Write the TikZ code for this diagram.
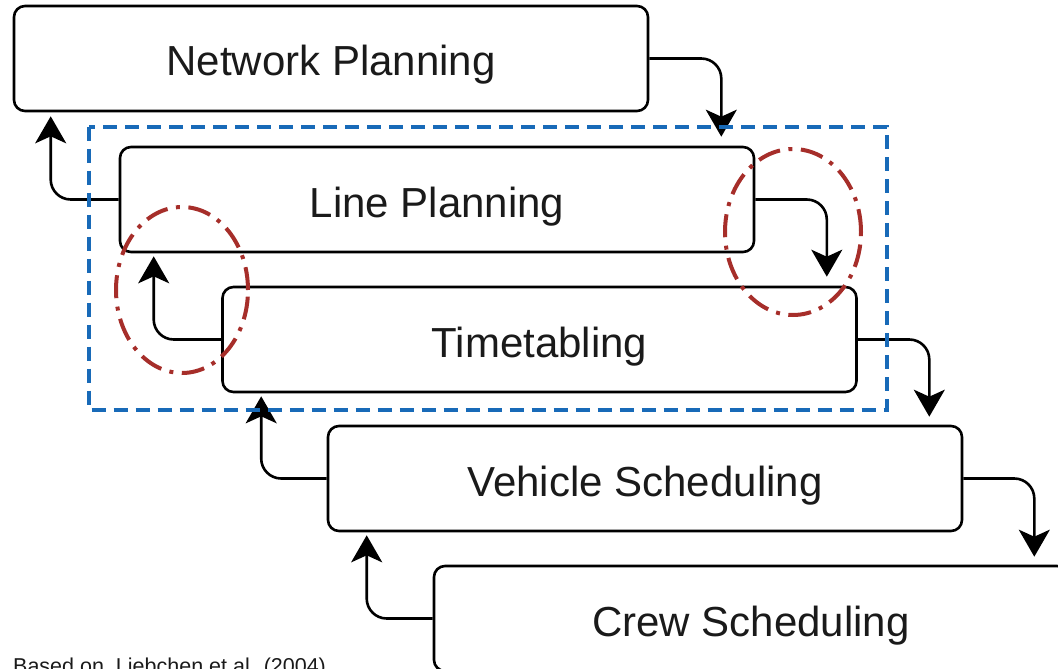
\documentclass[tikz,border=0pt]{standalone}
\usepackage{fontspec}
\setmainfont{Liberation Sans}
\usetikzlibrary{arrows.meta}

\definecolor{frameblue}{RGB}{24,106,184}
\definecolor{loopred}{RGB}{166,46,42}
\definecolor{inkgray}{RGB}{26,26,26}

\tikzset{
  stage/.style={draw=black, line width=2.6pt, rounded corners=11pt,
    minimum width=634pt, minimum height=105pt, inner sep=0pt,
    text height=35pt, text depth=0pt,
    text=inkgray, font=\fontsize{42}{50}\selectfont},
  flow/.style={line width=2.6pt, rounded corners=20pt,
    -{Stealth[length=27pt, width=31pt, inset=7pt]}},
  feedback/.style={flow},
  scopeframe/.style={draw=frameblue, line width=4pt, dash pattern=on 14pt off 8pt},
  loopmark/.style={draw=loopred, line width=4pt,
    dash pattern=on 23pt off 8.5pt on 4pt off 8.5pt},
  sourcenote/.style={text=inkgray, font=\fontsize{21.5}{26}\selectfont,
    inner sep=0pt, anchor=base west}
}

\begin{document}
\begin{tikzpicture}[x=1pt, y=-1pt]
  \useasboundingbox (0,0) rectangle (1058,669);

  % planning stages
  \node[stage] (np) at (331,58.5)   {Network Planning};
  \node[stage] (lp) at (437,199.5)  {Line Planning};
  \node[stage] (tt) at (539.5,339.5) {Timetabling};
  \node[stage] (vs) at (645,478.5)  {Vehicle Scheduling};
  \node[stage] (cs) at (751,618.5)  {Crew Scheduling};

  % forward flow, right side
  \draw[flow] (np.east) -| ([xshift=-34pt, yshift=9pt]lp.north east);
  \draw[flow] (lp.east) -| ([xshift=-31pt, yshift=9pt]tt.north east);
  \draw[flow] (tt.east) -| ([xshift=-34pt, yshift=8pt]vs.north east);
  \draw[flow] (vs.east) -| ([xshift=-35pt, yshift=8pt]cs.north east);

  % feedback flow, left side
  \draw[feedback] (lp.west) -| ([xshift=38pt, yshift=-4pt]np.south west);
  \draw[feedback] (tt.west) -| ([xshift=35pt, yshift=-3pt]lp.south west);
  \draw[feedback] (vs.west) -| ([xshift=40pt, yshift=-3pt]tt.south west);
  \draw[feedback] (cs.west) -| ([xshift=40pt, yshift=-3pt]vs.south west);

  % integrated scope
  \draw[scopeframe] (88.5,126.5) rectangle (886.5,409.5);

  % interfaces of interest
  \draw[loopmark] (182,290) ellipse [x radius=66pt, y radius=83pt];
  \draw[loopmark] (793,232) ellipse [x radius=68pt, y radius=83pt];

  % source
  \node[sourcenote] (src) at (13,673) {Based on\ \ Liebchen et al. (2004)};
\end{tikzpicture}
\end{document}
